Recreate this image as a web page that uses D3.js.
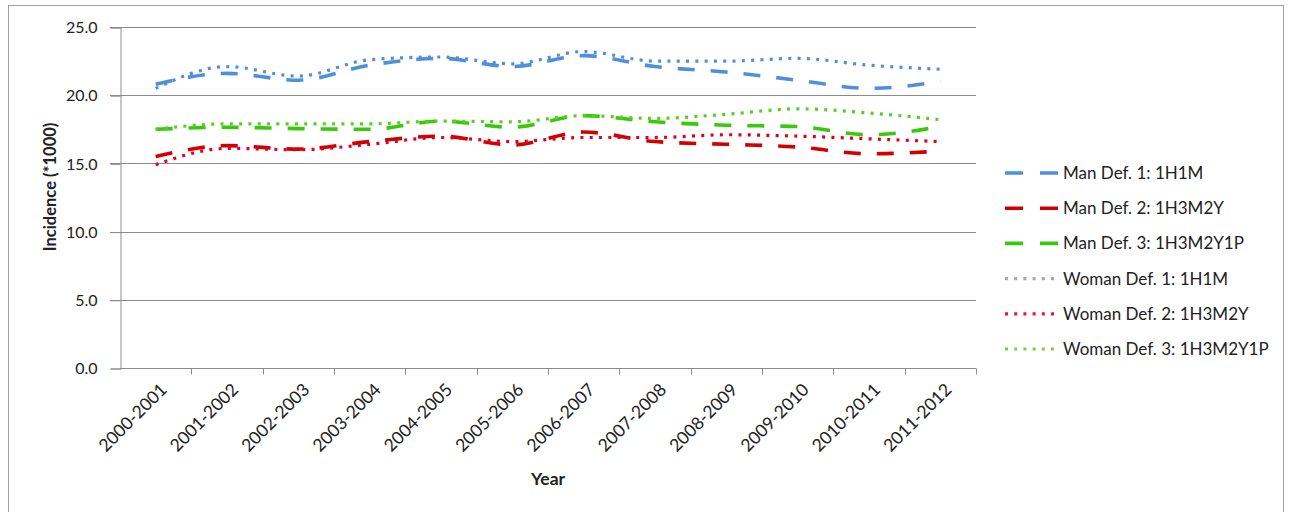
<!DOCTYPE html>
<html>
<head>
<meta charset="utf-8">
<script src="https://cdn.jsdelivr.net/npm/d3@7"></script>
<style>
  html, body { margin: 0; padding: 0; background: #fff; }
  svg { display: block; font-family: Lato, "Open Sans", sans-serif; }
</style>
</head>
<body>
<svg id="chart" width="1289" height="512"></svg>
<script>
// Academic years on the x axis
const categories = ["2000-2001", "2001-2002", "2002-2003", "2003-2004", "2004-2005", "2005-2006",
                    "2006-2007", "2007-2008", "2008-2009", "2009-2010", "2010-2011", "2011-2012"];

// Incidence (*1000) per definition and sex
const manDef1   = [20.8, 21.6, 21.1, 22.2, 22.7, 22.1, 22.9, 22.1, 21.7, 21.1, 20.5, 21.0];
const manDef2   = [15.5, 16.3, 16.05, 16.6, 17.0, 16.35, 17.3, 16.6, 16.4, 16.2, 15.7, 15.9];
const manDef3   = [17.5, 17.65, 17.55, 17.5, 18.1, 17.65, 18.5, 18.05, 17.8, 17.7, 17.1, 17.7];
const womanDef1 = [20.5, 22.1, 21.4, 22.6, 22.8, 22.3, 23.2, 22.5, 22.5, 22.7, 22.2, 21.9];
const womanDef2 = [14.9, 16.1, 16.0, 16.4, 16.9, 16.6, 16.9, 16.9, 17.1, 17.0, 16.8, 16.6];
const womanDef3 = [17.5, 17.9, 17.9, 17.9, 18.1, 18.05, 18.5, 18.3, 18.6, 19.0, 18.7, 18.2];

const seriesNames = ["Man Def. 1: 1H1M", "Man Def. 2: 1H3M2Y", "Man Def. 3: 1H3M2Y1P",
                     "Woman Def. 1: 1H1M", "Woman Def. 2: 1H3M2Y", "Woman Def. 3: 1H3M2Y1P"];
const yTicks = [0, 5, 10, 15, 20, 25];

// Line styles: dashed for men, dotted for women
const DASH = "17 16", DOT = "3 6.3";
const styles = [
  { color: "#4f8fdc", legend: "#4f8fdc", dash: DASH, width: 3.6 },
  { color: "#d20000", legend: "#d20000", dash: DASH, width: 3.6 },
  { color: "#3ac80c", legend: "#3ac80c", dash: DASH, width: 3.6 },
  { color: "#4f8fdc", legend: "#a8a8a8", dash: DOT,  width: 3.2 },
  { color: "#e3001e", legend: "#e0184a", dash: DOT,  width: 3.2 },
  { color: "#56d01c", legend: "#7ccf3a", dash: DOT,  width: 3.2 }
];
const series = [manDef1, manDef2, manDef3, womanDef1, womanDef2, womanDef3]
  .map((values, i) => ({ name: seriesNames[i], values, style: styles[i] }));

const svg = d3.select("#chart");

// Outer chart frame
svg.append("rect")
  .attr("x", 8.5).attr("y", 5.5).attr("width", 1275).attr("height", 530)
  .attr("fill", "#fff").attr("stroke", "#a0a0a0").attr("stroke-width", 1);

const plot = { left: 120, right: 976, top: 27, bottom: 368 };

const x = d3.scaleBand().domain(categories).range([plot.left, plot.right]).padding(0);
const y = d3.scaleLinear().domain([0, 25]).range([plot.bottom, plot.top]);
const cx = c => x(c) + x.bandwidth() / 2;

// Horizontal gridlines
svg.append("g")
  .selectAll("line")
  .data(yTicks.filter(t => t > 0))
  .join("line")
  .attr("x1", plot.left - 10).attr("x2", plot.right)
  .attr("y1", d => Math.round(y(d)) + 0.5).attr("y2", d => Math.round(y(d)) + 0.5)
  .attr("stroke", "#8c8c8c").attr("stroke-width", 1);

// Y axis
const yAxis = svg.append("g")
  .attr("transform", `translate(${plot.left + 0.5},0.5)`)
  .call(d3.axisLeft(y).tickValues(yTicks).tickFormat(d3.format(".1f")).tickSize(10).tickPadding(13));
yAxis.select(".domain").attr("stroke", "#8c8c8c");
yAxis.selectAll(".tick line").attr("stroke", "#8c8c8c");
yAxis.selectAll(".tick text")
  .attr("font-size", 16).attr("fill", "#222").attr("font-family", "Lato, sans-serif");

// X axis: labels at band centres, tick marks on band edges
const xAxis = svg.append("g")
  .attr("transform", `translate(0,${plot.bottom + 0.5})`)
  .call(d3.axisBottom(x).tickSize(0).tickPadding(0));
xAxis.select(".domain").attr("stroke", "#8c8c8c").attr("d", `M${plot.left},0H${plot.right}`);
xAxis.selectAll(".tick text")
  .attr("font-size", 17.5).attr("fill", "#222").attr("font-family", "Lato, sans-serif")
  .attr("text-anchor", "end")
  .attr("transform", "translate(8,18) rotate(-45)")
  .attr("dy", "0.35em");
xAxis.append("g")
  .selectAll("line")
  .data(categories.slice(1).concat([null]))
  .join("line")
  .attr("x1", (d, i) => Math.round(i < categories.length - 1 ? x(d) : plot.right) + 0.5)
  .attr("x2", (d, i) => Math.round(i < categories.length - 1 ? x(d) : plot.right) + 0.5)
  .attr("y1", 0).attr("y2", 6)
  .attr("stroke", "#8c8c8c");

// Axis titles
svg.append("text")
  .attr("transform", `translate(56,187) rotate(-90)`)
  .attr("text-anchor", "middle")
  .attr("font-size", 16.5).attr("font-weight", "bold").attr("fill", "#222")
  .text("Incidence (*1000)");
svg.append("text")
  .attr("x", (plot.left + plot.right) / 2).attr("y", 485)
  .attr("text-anchor", "middle")
  .attr("font-size", 17.5).attr("font-weight", "bold").attr("fill", "#222")
  .text("Year");

// Series lines
const line = d3.line()
  .x((d, i) => cx(categories[i]))
  .y(d => y(d))
  .curve(d3.curveMonotoneX);

svg.append("g")
  .selectAll("path")
  .data(series)
  .join("path")
  .attr("d", s => line(s.values))
  .attr("fill", "none")
  .attr("stroke", s => s.style.color)
  .attr("stroke-width", s => s.style.width)
  .attr("stroke-dasharray", s => s.style.dash)
  .attr("stroke-linecap", "butt")
  .attr("stroke-linejoin", "round");

// Legend
const legend = svg.append("g").attr("transform", "translate(1005,173)");
const rows = legend.selectAll("g")
  .data(series)
  .join("g")
  .attr("transform", (d, i) => `translate(0,${i * 35.2})`);
rows.append("line")
  .attr("x1", 0).attr("x2", 53).attr("y1", 0).attr("y2", 0)
  .attr("stroke", s => s.style.legend)
  .attr("stroke-width", s => s.style.width)
  .attr("stroke-dasharray", s => s.style.dash === DASH ? "18 17" : "3 6.2");
rows.append("text")
  .attr("x", 58).attr("y", 0).attr("dy", "0.35em")
  .attr("font-size", 17).attr("fill", "#222")
  .text(s => s.name);
</script>
</body>
</html>
